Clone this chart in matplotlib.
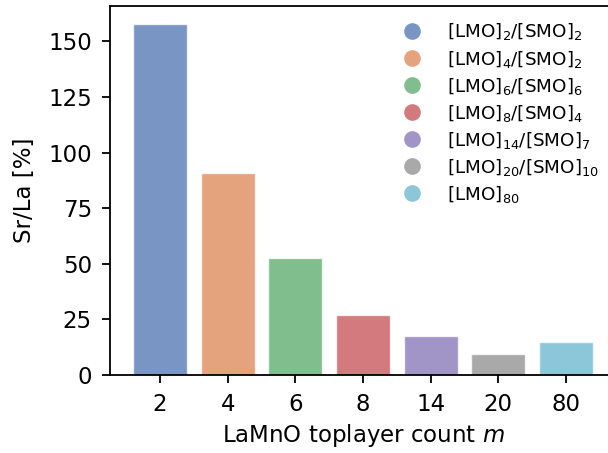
import numpy as np
import matplotlib.pyplot as plt
from matplotlib.lines import Line2D

m_labels = ['2', '4', '6', '8', '14', '20', '80']
sr_la = [158, 90.8, 52.4, 26.8, 17.7, 9.3, 15.0]
legend_labels = [r'[LMO]$_2$/[SMO]$_2$', r'[LMO]$_4$/[SMO]$_2$', r'[LMO]$_6$/[SMO]$_6$',
                 r'[LMO]$_8$/[SMO]$_4$', r'[LMO]$_{14}$/[SMO]$_7$',
                 r'[LMO]$_{20}$/[SMO]$_{10}$', r'[LMO]$_{80}$']
colors = ['#4C72B0', '#DD8452', '#55A868', '#C44E52', '#8172B3', '#8C8C8C', '#64B5CD']

fig = plt.figure(figsize=(6.08, 4.53), dpi=100)
ax = fig.add_axes([110/608, 78/453, 506/608, 369/453])

x = np.arange(len(m_labels))
ax.bar(x, sr_la, width=0.8, color=colors, alpha=0.75, edgecolor='white', linewidth=1)
ax.set_xticks(x)
ax.set_xticklabels(m_labels)
ax.set_yticks([0, 25, 50, 75, 100, 125, 150])
ax.tick_params(labelsize=16.5, length=6, width=1.3, pad=7)
for s in ax.spines.values():
    s.set_linewidth(1.3)
ax.set_xlabel('LaMnO toplayer count $m$', fontsize=16.5)
ax.set_ylabel('Sr/La [%]', fontsize=16.5, labelpad=9)

handles = [Line2D([], [], marker='o', ls='', color=c, alpha=0.75, markersize=12,
                  markeredgewidth=0) for c in colors]
ax.legend(handles, legend_labels, loc='upper left', bbox_to_anchor=(377/608, 1 - 5/453),
          bbox_transform=fig.transFigure, frameon=False, fontsize=13.2,
          handletextpad=0.9, labelspacing=0.33)

plt.savefig('out.png', dpi=100)
